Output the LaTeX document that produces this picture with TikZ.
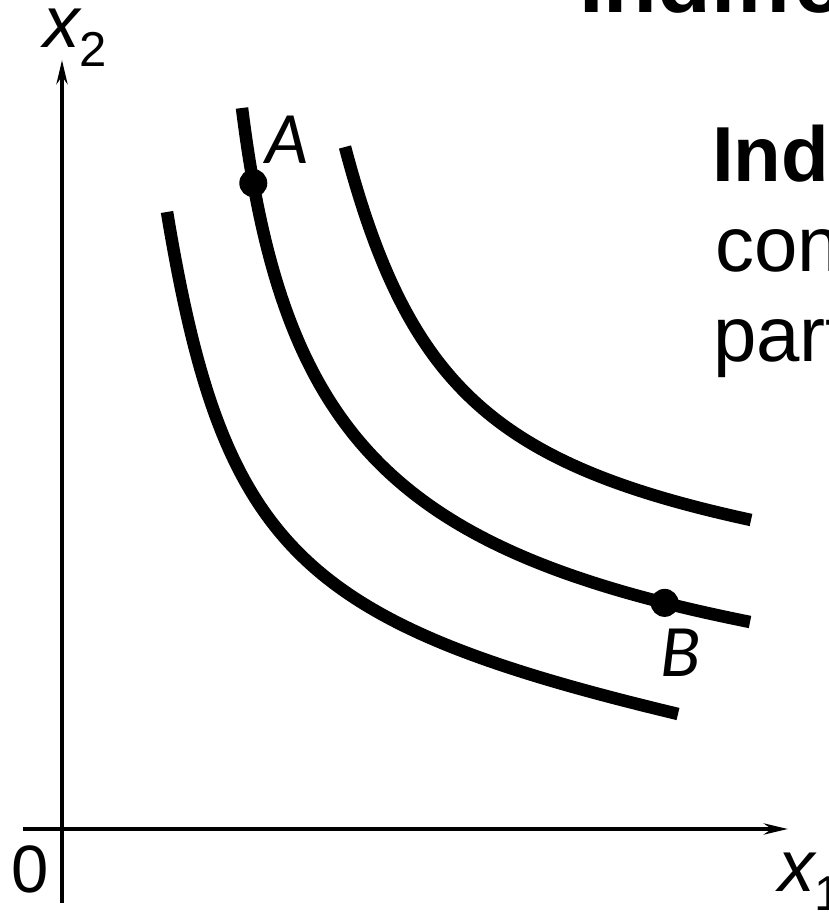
\documentclass[tikz,border=0pt]{standalone}
\usepackage{fontspec}
\setmainfont{Liberation Sans}
\newfontfamily\ptfont{Carlito}
\usetikzlibrary{arrows.meta}

% axis label: italic x with a lowered index
\newcommand{\axlab}[1]{{\fontsize{73}{73}\selectfont\itshape x}{\fontsize{49}{49}\selectfont\raisebox{-19pt}{#1}}}

\begin{document}
\begin{tikzpicture}[
    x=1pt, y=1pt,
    axis/.style={line width=4.5pt, -{Stealth[length=24pt, width=11pt]}},
    curve/.style={line width=12.5pt},
    dot/.style={circle, fill=black, inner sep=0pt, minimum size=28pt},
    ptlab/.style={anchor=base west, font=\ptfont\itshape\fontsize{74}{74}\selectfont},
    slide/.style={anchor=base west, inner sep=0pt, font=\fontsize{78}{90}\selectfont}
]
    \useasboundingbox (0,0) rectangle (829,912);
    \clip (0,0) rectangle (829,912);

    % --- AXES ---

    % Coordinates
    \coordinate (xs) at (23,83);    % x axis start
    \coordinate (xe) at (788,83);   % x axis tip
    \coordinate (ys) at (62,9);     % y axis start
    \coordinate (ye) at (62,852);   % y axis tip

    \draw[axis] (xs) -- (xe);
    \draw[axis] (ys) -- (ye);

    % Axis Labels
    \node[anchor=base west, inner sep=0pt] (xtwo) at (43,864) {\axlab{2}};
    \node[anchor=base west, inner sep=0pt] (xone) at (778,20) {\axlab{1}};
    \node[anchor=base west, inner sep=0pt, font=\fontsize{67}{67}\selectfont] (zero) at (11,19) {0};

    % --- INDIFFERENCE CURVES ---

    % Lower curve
    \draw[curve] (167,700) .. controls (223,363) and (298,289) .. (678,198);

    % Middle curve, with the points A and B on it
    \draw[curve] (242,804) .. controls (283,474) and (395,361) .. (750,290)
        node[dot, pos=0.08] (dotA) {}
        node[dot, pos=0.915] (dotB) {};

    % Upper curve
    \draw[curve] (345,765) .. controls (408,527) and (493,448) .. (751,392);

    % Point Labels
    \node[ptlab, inner sep=0pt] (labA) at (265,748) {A};
    \node[ptlab, inner sep=0pt] (labB) at (660,235) {B};

    % --- SLIDE TEXT (cut by the frame) ---
    \node[slide, font=\bfseries\fontsize{88}{90}\selectfont] (title) at (579,899) {Indiffe};
    \node[slide, font=\bfseries\fontsize{78}{90}\selectfont] (lineone) at (712,730) {Ind};
    \node[slide] (linetwo) at (715,640) {con};
    \node[slide] (linethree) at (713,550) {part};

\end{tikzpicture}
\end{document}
